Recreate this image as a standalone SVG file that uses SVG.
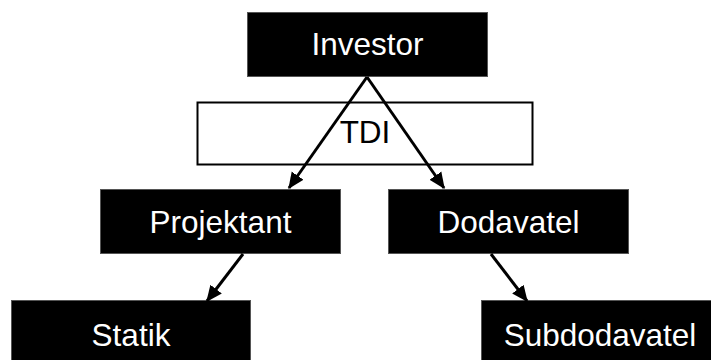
<svg xmlns="http://www.w3.org/2000/svg" width="711" height="360" viewBox="0 0 711 360">
<style>
.box{fill:#000;stroke:#555;stroke-width:1}
.lbl{font-family:"Liberation Sans",Arial,sans-serif;font-size:31.5px;fill:#fff;text-anchor:middle}
.tdi{fill:#fff;stroke:#000;stroke-width:2}
.tdil{font-family:"Liberation Sans",Arial,sans-serif;font-size:31.5px;fill:#000;text-anchor:middle}
.conn{stroke:#000;stroke-width:3;fill:none;marker-end:url(#arr)}
</style>
<defs>
<marker id="arr" markerWidth="6" markerHeight="6" refX="5" refY="3" orient="auto" markerUnits="strokeWidth">
<path d="M0,0.6 L5.4,3 L0,5.4 Z" fill="#000"/>
</marker>
</defs>
<rect width="711" height="360" fill="#fff"/>
<g id="tdi">
<rect class="tdi" x="197.5" y="102.5" width="335" height="62"/>
<text class="tdil" x="365" y="143">TDI</text>
</g>
<g id="investor">
<rect class="box" x="247.5" y="12.5" width="240" height="64"/>
<text class="lbl" x="367.5" y="55">Investor</text>
</g>
<g id="projektant">
<rect class="box" x="100.5" y="189.5" width="240" height="64"/>
<text class="lbl" x="220.5" y="233">Projektant</text>
</g>
<g id="dodavatel">
<rect class="box" x="388.5" y="189.5" width="240" height="64"/>
<text class="lbl" x="508.5" y="233">Dodavatel</text>
</g>
<g id="statik">
<rect class="box" x="11.5" y="300.5" width="239" height="64"/>
<text class="lbl" x="131" y="346">Statik</text>
</g>
<g id="subdodavatel">
<rect class="box" x="481.5" y="300.5" width="240" height="64"/>
<text class="lbl" x="600" y="346">Subdodavatel</text>
</g>
<g id="connectors">
<line class="conn" x1="367" y1="77" x2="289" y2="188"/>
<line class="conn" x1="367" y1="77" x2="444" y2="188"/>
<line class="conn" x1="243" y1="254" x2="207" y2="301"/>
<line class="conn" x1="491" y1="254" x2="527" y2="301"/>
</g>
</svg>
